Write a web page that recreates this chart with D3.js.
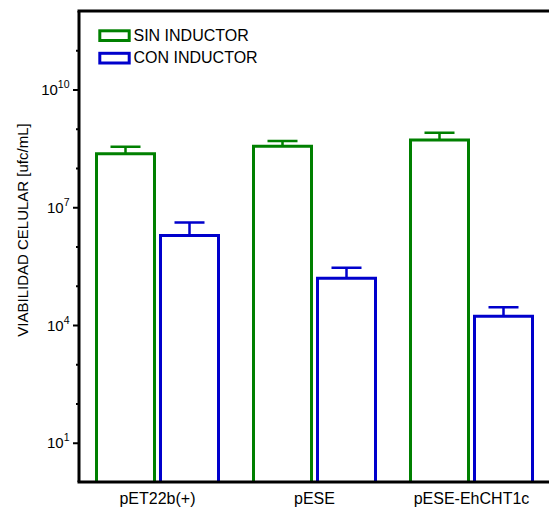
<!DOCTYPE html>
<html>
<head>
<meta charset="utf-8">
<script src="https://cdn.jsdelivr.net/npm/d3@7"></script>
<style>
  html, body { margin: 0; padding: 0; background: #fff; }
  svg { display: block; font-family: "Liberation Sans", Arial, sans-serif; }
</style>
</head>
<body>
<svg id="chart" width="549" height="508"></svg>
<script>
// ---- data ----
const categories = ["pET22b(+)", "pESE", "pESE-EhCHT1c"];
const seriesNames = ["SIN INDUCTOR", "CON INDUCTOR"];
const sinValues = [2.3e8, 3.6e8, 5.2e8];
const sinErrors = [1.2e8, 1.3e8, 2.7e8];
const conValues = [1.9e6, 1.56e5, 1.67e4];
const conErrors = [2.2e6, 1.3e5, 1.17e4];
const majorTickExps = [1, 4, 7, 10];
const minorTickExps = [2, 3, 5, 6, 8, 9, 11];
const yLabel = "VIABILIDAD CELULAR [ufc/mL]";

const colors = ["#008000", "#0000cc"];

const svg = d3.select("#chart");

const mLeft = 79, mRight = 550, mTop = 11, mBottom = 482;

const x = d3.scaleBand().domain(categories).range([mLeft, mRight]).padding(0);
const xInner = d3.scaleBand().domain(seriesNames)
  .range([17.5, x.bandwidth() - 17.5]).paddingInner(0.09375).paddingOuter(0);
const y = d3.scaleLog().domain([1, 1e12]).range([mBottom, mTop]);

const data = categories.map((c, i) => ({
  cat: c,
  vals: [
    { s: seriesNames[0], v: sinValues[i], e: sinErrors[i], c: colors[0] },
    { s: seriesNames[1], v: conValues[i], e: conErrors[i], c: colors[1] }
  ]
}));

// bars
const g = svg.append("g");
const groups = g.selectAll("g.grp").data(data).join("g")
  .attr("transform", d => `translate(${x(d.cat)},0)`);

groups.selectAll("path.bar").data(d => d.vals).join("path")
  .attr("fill", "none")
  .attr("stroke", d => d.c)
  .attr("stroke-width", 3)
  .attr("stroke-linejoin", "miter")
  .attr("d", d => {
    const x0 = xInner(d.s), x1 = x0 + xInner.bandwidth();
    const yt = y(d.v);
    return `M${x0},${mBottom}V${yt}H${x1}V${mBottom}`;
  });

// error bars
groups.selectAll("path.err").data(d => d.vals).join("path")
  .attr("fill", "none")
  .attr("stroke", d => d.c)
  .attr("stroke-width", 2.5)
  .attr("d", d => {
    const cx = xInner(d.s) + xInner.bandwidth() / 2;
    const yt = y(d.v), ye = y(d.v + d.e);
    return `M${cx},${yt}V${ye}M${cx - 15},${ye}H${cx + 15}`;
  });

// axes
const yAxisMajor = d3.axisLeft(y)
  .tickValues(majorTickExps.map(e => Math.pow(10, e)))
  .tickSize(6).tickFormat("");
const yAxisMinor = d3.axisLeft(y)
  .tickValues(minorTickExps.map(e => Math.pow(10, e)))
  .tickSize(3).tickFormat("");

const ga = svg.append("g").attr("transform", `translate(${mLeft},0)`).call(yAxisMajor);
ga.select(".domain").remove();
ga.selectAll(".tick line").attr("stroke", "#000").attr("stroke-width", 2);
const gm = svg.append("g").attr("transform", `translate(${mLeft},0)`).call(yAxisMinor);
gm.select(".domain").remove();
gm.selectAll(".tick line").attr("stroke", "#000").attr("stroke-width", 2);

// tick labels with superscript
const lbl = svg.append("g").selectAll("text").data(majorTickExps).join("text")
  .attr("x", mLeft - 9.5)
  .attr("y", e => y(Math.pow(10, e)) + 5.5)
  .attr("text-anchor", "end")
  .attr("font-size", 15)
  .attr("fill", "#000");
lbl.append("tspan").text("10");
lbl.append("tspan").attr("dy", -7).attr("font-size", 10.5).text(e => e);

// frame lines
svg.append("path")
  .attr("d", `M${mLeft},${mTop}V${mBottom}`)
  .attr("stroke", "#000").attr("stroke-width", 3).attr("fill", "none");
svg.append("path")
  .attr("d", `M${mLeft - 1.5},${mTop}H${549}`)
  .attr("stroke", "#000").attr("stroke-width", 3).attr("fill", "none");
svg.append("path")
  .attr("d", `M${mLeft - 1.5},${mBottom}H${549}`)
  .attr("stroke", "#000").attr("stroke-width", 3).attr("fill", "none");

// x category labels
svg.append("g").selectAll("text").data(categories).join("text")
  .attr("x", d => x(d) + x.bandwidth() / 2)
  .attr("y", 504)
  .attr("text-anchor", "middle")
  .attr("font-size", 16)
  .attr("fill", "#000")
  .text(d => d);

// y label
svg.append("text")
  .attr("transform", `translate(28,230) rotate(-90)`)
  .attr("text-anchor", "middle")
  .attr("font-size", 15)
  .attr("fill", "#000")
  .text(yLabel);

// legend
const leg = svg.append("g").selectAll("g").data(seriesNames).join("g")
  .attr("transform", (d, i) => `translate(0,${i * 22.5})`);
leg.append("rect")
  .attr("x", 99.8).attr("y", 30.8).attr("width", 29.4).attr("height", 9.7)
  .attr("fill", "none").attr("stroke", (d, i) => colors[i]).attr("stroke-width", 3);
leg.append("text")
  .attr("x", 133.5).attr("y", 40.8)
  .attr("font-size", 16).attr("fill", "#000")
  .text(d => d);
</script>
</body>
</html>
